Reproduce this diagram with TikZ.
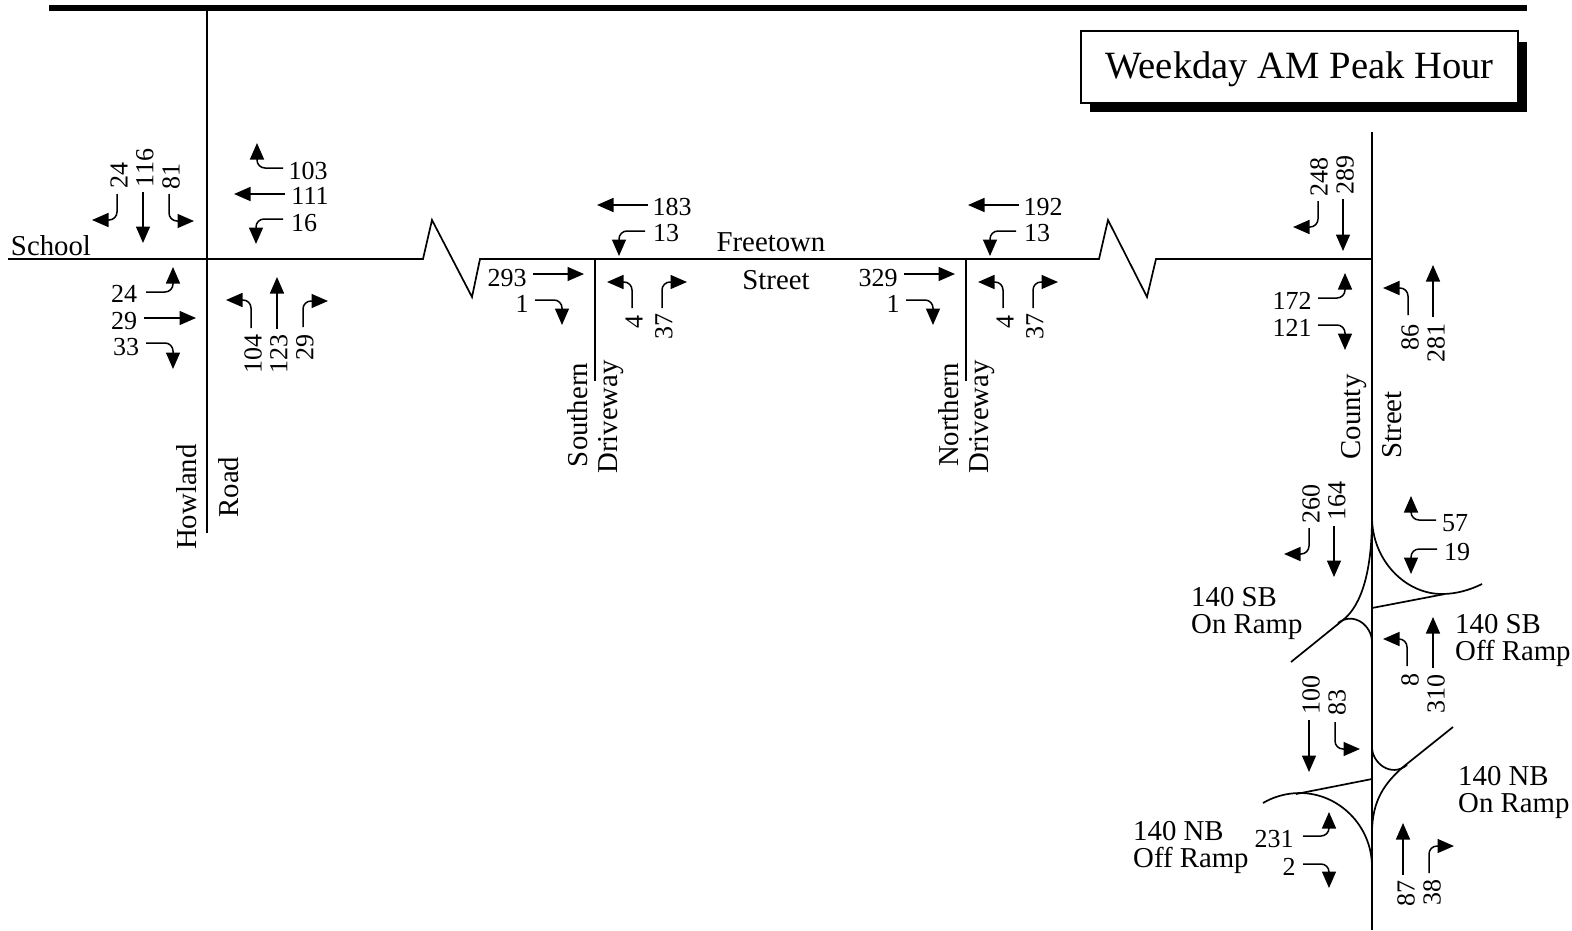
\documentclass[tikz,border=0pt]{standalone}
\usepackage{fontspec}
\setmainfont{Liberation Serif}
\usetikzlibrary{arrows.meta}
\tikzset{
  road/.style={black, line width=1.7pt},
  mvline/.style={black, line width=1.5pt, -{Triangle[length=16.5pt,width=14pt]}},
  mvturn/.style={mvline, rounded corners=8pt},
  volbl/.style={font=\fontsize{26}{26}\selectfont, inner sep=0pt},
  volup/.style={volbl, rotate=90},
  rdlbl/.style={font=\fontsize{28.8}{28.8}\selectfont, inner sep=0pt},
  rdup/.style={rdlbl, rotate=90},
  ramplbl/.style={font=\fontsize{28.8}{27}\selectfont, inner sep=0pt, anchor=west, align=left},
}

\begin{document}
\begin{tikzpicture}[x=1pt, y=-1pt]
\useasboundingbox (0,0) rectangle (1572,930);

% ================= header =================
\fill[black] (49,5) rectangle (1527,11);
\fill[black] (1090,42) rectangle (1527,112);
\node[draw=black, fill=white, line width=1.5pt, minimum width=437pt, minimum height=72pt,
  inner sep=0pt, text height=24pt, text depth=2pt,
  font=\fontsize{38.6}{38.6}\selectfont, anchor=center] (peakbox) at (1299.5,67)
  {Weekday AM Peak Hour};

% ================= roads =================
% School / Freetown runs left to right with two break marks
\draw[road] (8,259) -- (423,259) -- (432,220) -- (472,297) -- (480,259)
  -- (1099,259) -- (1108,220) -- (1147,297) -- (1156,259) -- (1372,259);
\draw[road] (207,11) -- (207,533);
\draw[road] (1372,132) -- (1372,930);

% ramps at County Street
\draw[road] (1372,517) .. controls (1372,570) and (1362,605) .. (1343,620) -- (1291,662);
\draw[road] (1372,642) .. controls (1372,626) and (1354,611) .. (1338,623);
\draw[road] (1372,517) .. controls (1372,560) and (1405,594) .. (1442,594)
  .. controls (1456,594) and (1470,590) .. (1482,584);
\draw[road] (1372,608) -- (1445,594);
\draw[road] (1372,867) .. controls (1372,825) and (1338,793) .. (1300,793)
  .. controls (1286,793) and (1273,797) .. (1263,803);
\draw[road] (1372,779) -- (1296,794);
\draw[road] (1372,833) .. controls (1372,800) and (1385,783) .. (1403,767) -- (1453,727);
\draw[road] (1372,747) .. controls (1372,763) and (1391,778) .. (1407,765);

% ================= through movements =================
\foreach \xa/\ya/\xb/\yb in {143/192/143/243, 285/194/234/194, 144/318/196/318, 277/329/277/277,
                             1343/199/1343/251, 1433/317/1433/265,
                             1334/526/1334/577, 1433/668/1433/617,
                             1309/720/1309/772, 1403/875/1403/823}
  \draw[mvline] (\xa,\ya) -- (\xb,\yb);

% ================= turning movements =================
% leaves vertically, ends horizontally
\foreach \xa/\ya/\xb/\yb in {117/194/92/220, 169/194/194/221, 251/328/226/300, 303/327/328/301,
                             1318/201/1293/227, 1408/315/1383/288,
                             1309/528/1284/554, 1407/666/1383/639,
                             1335/722/1360/749, 1429/873/1454/846}
  \draw[mvturn] (\xa,\ya) |- (\xb,\yb);
% leaves horizontally, ends vertically
\foreach \xa/\ya/\xb/\yb in {283/168/257/143, 283/219/256/244, 146/292/173/267, 146/343/173/369,
                             1318/298/1345/273, 1318/325/1345/350,
                             1436/520/1411/496, 1437/549/1411/574,
                             1303/836/1329/812, 1303/864/1329/888}
  \draw[mvturn] (\xa,\ya) -| (\xb,\yb);

% ================= driveways =================
\foreach \dx/\wbv/\ebv/\drv in {0/183/293/Southern, 371/192/329/Northern} {
  \begin{scope}[xshift=\dx pt]
    \draw[road] (595,259) -- (595,381);
    \draw[mvline] (648,205) -- (597,205);
    \draw[mvline] (533,274) -- (584,274);
    \draw[mvturn] (645,231) -| (619,256);
    \draw[mvturn] (535,300) -| (562,325);
    \draw[mvturn] (632,308) |- (607,282);
    \draw[mvturn] (662,308) |- (687,282);
    \node[volbl] (wb\drv) at (672,207) {\wbv};
    \node[volbl] (wl\drv) at (666,233) {13};
    \node[volbl] (eb\drv) at (507,278) {\ebv};
    \node[volbl] (er\drv) at (522,304) {1};
    \node[volup] (nl\drv) at (634,322) {4};
    \node[volup] (nr\drv) at (664,326) {37};
    \node[rdup] (nm\drv) at (578,415) {\drv};
    \node[rdup] (dw\drv) at (611,417) {Driveway};
  \end{scope}
}

% ================= volumes =================
\foreach \lx/\ly/\lbl [count=\ni] in {308/171/103, 310/196/111, 304/223/16,
                                      124/294/24, 124/321/29, 126/347/33,
                                      1292/301/172, 1292/328/121,
                                      1455/523/57, 1457/552/19,
                                      1274/839/231, 1289/867/2}
  \node[volbl] (h\ni) at (\lx,\ly) {\lbl};
\foreach \lx/\ly/\lbl [count=\ni] in {119/175/24, 145/168/116, 171/176/81,
                                      253/354/104, 279/354/123, 305/347/29,
                                      1319/177/248, 1345/175/289,
                                      1410/337/86, 1436/343/281,
                                      1311/504/260, 1337/501/164,
                                      1410/680/8, 1436/694/310,
                                      1311/695/100, 1337/702/83,
                                      1406/893/87, 1432/892/38}
  \node[volup] (v\ni) at (\lx,\ly) {\lbl};

% ================= street names =================
\node[rdlbl] (school) at (51,246) {School};
\node[rdup] (howland) at (187,497) {Howland};
\node[rdup] (road) at (229,487) {Road};
\node[rdlbl] (freetown) at (771,242) {Freetown};
\node[rdlbl] (street) at (776,280) {Street};
\node[rdup] (county) at (1354,417) {County};
\node[rdup] (cstreet) at (1392,425) {Street};
\node[ramplbl] (sbon) at (1191,613) {140 SB\\On Ramp};
\node[ramplbl] (sboff) at (1455,640) {140 SB\\Off Ramp};
\node[ramplbl] (nbon) at (1458,792) {140 NB\\On Ramp};
\node[ramplbl] (nboff) at (1133,847) {140 NB\\Off Ramp};
\end{tikzpicture}
\end{document}
